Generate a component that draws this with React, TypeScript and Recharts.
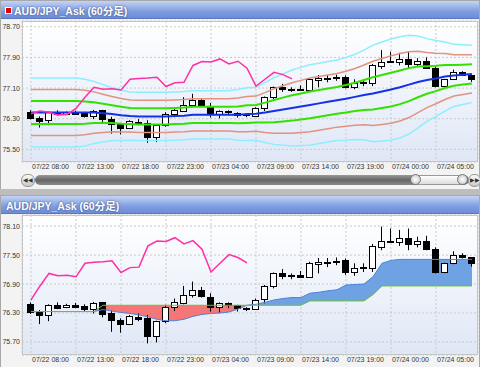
import React from 'react';
import {
  ComposedChart,
  Bar,
  Line,
  Area,
  XAxis,
  YAxis,
  CartesianGrid,
} from 'recharts';

// hourly candles, 07/22 08:00 .. 07/24 09:00
const opens = [76.48, 76.33, 76.26, 76.47, 76.42, 76.47, 76.44, 76.38, 76.52, 76.29, 76.16, 76.07, 76.22, 76.19, 75.83, 76.13, 76.42, 76.51, 76.67, 76.78, 76.64, 76.42, 76.5, 76.46, 76.4, 76.38, 76.58, 76.86, 77.13, 77.07, 77.08, 77.05, 77.32, 77.36, 77.38, 77.4, 77.14, 77.24, 77.24, 77.67, 77.8, 77.78, 77.86, 77.73, 77.8, 77.62, 77.15, 77.33, 77.51, 77.45];
const highs = [76.52, 76.36, 76.48, 76.52, 76.49, 76.51, 76.48, 76.53, 76.53, 76.35, 76.19, 76.26, 76.29, 76.26, 76.14, 76.47, 76.6, 76.86, 76.95, 76.84, 76.71, 76.52, 76.52, 76.47, 76.42, 76.6, 76.88, 77.14, 77.21, 77.12, 77.17, 77.36, 77.44, 77.44, 77.45, 77.43, 77.33, 77.33, 77.73, 78.09, 78.05, 78.02, 78.05, 77.88, 77.9, 77.66, 77.34, 77.58, 77.54, 77.46];
const lows = [76.28, 76.07, 76.13, 76.38, 76.4, 76.4, 76.33, 76.29, 76.21, 75.91, 75.89, 76.05, 76.13, 75.67, 75.69, 76.09, 76.34, 76.48, 76.62, 76.62, 76.33, 76.31, 76.4, 76.33, 76.34, 76.37, 76.5, 76.81, 77.0, 77.0, 77.04, 77.04, 77.12, 77.25, 77.29, 77.09, 77.07, 77.15, 77.15, 77.6, 77.76, 77.69, 77.6, 77.66, 77.6, 77.12, 77.14, 77.31, 77.43, 77.26];
const closes = [76.32, 76.25, 76.47, 76.41, 76.47, 76.43, 76.38, 76.51, 76.28, 76.16, 76.07, 76.23, 76.18, 75.83, 76.13, 76.42, 76.52, 76.67, 76.78, 76.65, 76.43, 76.5, 76.47, 76.4, 76.41, 76.57, 76.86, 77.12, 77.07, 77.08, 77.05, 77.33, 77.35, 77.36, 77.38, 77.14, 77.24, 77.25, 77.69, 77.79, 77.78, 77.86, 77.73, 77.8, 77.62, 77.15, 77.33, 77.51, 77.45, 77.34];

// bollinger middle line and sigma (top panel)
const bbMid = [76.46, 76.46, 76.46, 76.46, 76.46, 76.46, 76.46, 76.46, 76.44, 76.42, 76.39, 76.37, 76.36, 76.36, 76.36, 76.36, 76.37, 76.38, 76.4, 76.4, 76.4, 76.4, 76.4, 76.4, 76.42, 76.43, 76.46, 76.5, 76.54, 76.58, 76.62, 76.66, 76.7, 76.74, 76.78, 76.82, 76.87, 76.92, 76.96, 77.01, 77.06, 77.12, 77.19, 77.26, 77.31, 77.35, 77.4, 77.43, 77.45, 77.47];
const bbSigma = [0.3, 0.3, 0.3, 0.3, 0.3, 0.3, 0.29, 0.27, 0.25, 0.23, 0.22, 0.21, 0.21, 0.21, 0.21, 0.21, 0.21, 0.21, 0.21, 0.21, 0.21, 0.21, 0.21, 0.22, 0.23, 0.23, 0.26, 0.29, 0.31, 0.33, 0.34, 0.35, 0.35, 0.35, 0.35, 0.36, 0.37, 0.39, 0.42, 0.43, 0.44, 0.44, 0.43, 0.4, 0.36, 0.33, 0.3, 0.27, 0.26, 0.25];

// lagging lines
const lagTop = [76.43, 76.5, 76.47, 76.4, 76.41, 76.57, 76.86, 77.12, 77.07, 77.08, 77.05, 77.33, 77.35, 77.36, 77.38, 77.14, 77.24, 77.25, 77.69, 77.79, 77.78, 77.86, 77.73, 77.8, 77.62, 77.15, 77.33, 77.51, 77.45, 77.34];
const lagBottom = [76.57, 76.86, 77.12, 77.07, 77.08, 77.05, 77.33, 77.35, 77.36, 77.38, 77.14, 77.24, 77.25, 77.69, 77.79, 77.78, 77.86, 77.73, 77.8, 77.62, 77.15, 77.33, 77.51, 77.45, 77.34];

// ichimoku cloud spans (bottom panel)
const spanA = [76.33, 76.33, 76.33, 76.33, 76.33, 76.33, 76.33, 76.33, 76.37, 76.34, 76.31, 76.29, 76.26, 76.22, 76.17, 76.14, 76.14, 76.17, 76.23, 76.27, 76.29, 76.3, 76.32, 76.38, 76.46, 76.48, 76.52, 76.57, 76.6, 76.62, 76.62, 76.71, 76.73, 76.76, 76.78, 76.88, 76.89, 76.9, 77.05, 77.33, 77.39, 77.41, 77.41, 77.41, 77.41, 77.41, 77.41, 77.41, 77.41, 77.41];
const spanB = [76.33, 76.33, 76.33, 76.33, 76.33, 76.33, 76.33, 76.33, 76.46, 76.46, 76.46, 76.46, 76.46, 76.46, 76.46, 76.46, 76.46, 76.46, 76.46, 76.46, 76.46, 76.46, 76.46, 76.46, 76.46, 76.46, 76.46, 76.46, 76.46, 76.46, 76.46, 76.55, 76.55, 76.55, 76.55, 76.55, 76.55, 76.55, 76.68, 76.86, 76.86, 76.86, 76.86, 76.86, 76.86, 76.86, 76.86, 76.86, 76.86, 76.86];

const timeLabels = ['07/22 08:00', '07/22 13:00', '07/22 18:00', '07/22 23:00', '07/23 04:00', '07/23 09:00', '07/23 14:00', '07/23 19:00', '07/24 00:00', '07/24 05:00'];
const timeTicks = [0, 5, 10, 15, 20, 25, 30, 35, 40, 45];
const topTicks = [75.5, 76.3, 77.1, 77.9, 78.7];
const bottomTicks = [75.7, 76.3, 76.9, 77.5, 78.1];

const rows = opens.map((o, i) => ({
  i,
  open: o,
  high: highs[i],
  low: lows[i],
  close: closes[i],
  range: [lows[i], highs[i]],
  mid: bbMid[i],
  sd: bbSigma[i],
  lagTop: lagTop[i],
  lagBottom: lagBottom[i],
  a: spanA[i],
  b: spanB[i],
}));

const FONT = '"Liberation Sans", Arial, sans-serif';

const Candle = (props: any) => {
  const { x, y, width, height, payload } = props;
  if (!payload || height == null) return null;
  const { open, close, high, low } = payload;
  const ppu = high - low > 0 ? height / (high - low) : 0;
  const yOf = (v: number) => y + (high - v) * ppu;
  const cx = Math.round(x + width / 2) + 0.5;
  const top = Math.round(yOf(Math.max(open, close))) + 0.5;
  const bot = Math.round(yOf(Math.min(open, close))) + 0.5;
  const up = close >= open;
  return (
    <g>
      <line x1={cx} x2={cx} y1={y} y2={y + height} stroke='#000' strokeWidth={1} />
      <rect
        x={cx - 3}
        y={top}
        width={6}
        height={Math.max(bot - top, 1)}
        fill={up ? '#fff' : '#000'}
        stroke='#000'
        strokeWidth={1}
      />
    </g>
  );
};

const TimeTick = (props: any) => {
  const { x, y, payload } = props;
  const idx = timeTicks.indexOf(payload.value);
  return (
    <text x={x + 1} y={y} dy={5} textAnchor='start' fontSize={7} fill='#333' fontFamily={FONT}>
      {timeLabels[idx]}
    </text>
  );
};

const TitleBar = ({ top, left, dot }: { top: number; left: number; dot: boolean }) => (
  <div
    style={{
      position: 'absolute',
      left: 1,
      top,
      width: 478,
      height: 17,
      background: 'linear-gradient(#c4d4f4, #7f9de0 60%, #6d8cd6)',
      borderBottom: '1px solid #5b78c0',
    }}
  >
    {dot && (
      <div
        style={{
          position: 'absolute',
          left: 4,
          top: 6,
          width: 5,
          height: 5,
          background: '#e00000',
          border: '1px solid #fff',
        }}
      />
    )}
    <div
      style={{
        position: 'absolute',
        left,
        top: 2,
        color: '#fff',
        fontSize: 10.5,
        fontWeight: 'bold',
        fontFamily: '"Liberation Sans", "Noto Sans CJK JP", sans-serif',
        textShadow: '0 0 2px #334477',
        whiteSpace: 'nowrap',
      }}
    >
      AUD/JPY_Ask (60分足)
    </div>
  </div>
);

const PlotBg = ({ top, height }: { top: number; height: number }) => (
  <div
    style={{
      position: 'absolute',
      left: 22,
      top,
      width: 456,
      height,
      background: 'linear-gradient(#ffffff, #dfe7f6)',
      border: '1px solid #c4c4c4',
      boxSizing: 'border-box',
    }}
  />
);

const xDomain = [-1, 49.67];

export default function App() {
  return (
    <div
      style={{
        position: 'fixed',
        left: 0,
        top: 0,
        width: 480,
        height: 367,
        background: '#f1f1f1',
        overflow: 'hidden',
      }}
    >
      {/* top panel frame */}
      <div style={{ position: 'absolute', left: 0, top: 0, width: 478, height: 188, border: '1px solid #a8a8a8', background: '#f3f3f3' }} />
      <TitleBar top={1} left={13} dot />
      <PlotBg top={21} height={141} />

      {/* scrollbar */}
      <div style={{ position: 'absolute', left: 21, top: 174, width: 12, height: 11, borderRadius: 6, background: 'linear-gradient(#fafafa, #c8c8c8)', border: '1px solid #999', fontSize: 6, lineHeight: '11px', textAlign: 'center', color: '#333', fontFamily: FONT }}>◀◀</div>
      <div style={{ position: 'absolute', left: 35, top: 175, width: 434, height: 10, borderRadius: 5, background: 'linear-gradient(#9a9a9a, #666 50%, #888)' }} />
      <div style={{ position: 'absolute', left: 411, top: 175, width: 56, height: 10, borderRadius: 5, background: 'linear-gradient(#ffffff, #dcdcdc)', border: '1px solid #999', boxSizing: 'border-box' }} />
      <div style={{ position: 'absolute', left: 410, top: 174, width: 11, height: 11, borderRadius: 6, background: 'radial-gradient(#ffffff, #c0c0c0)', border: '1px solid #777', boxSizing: 'border-box' }} />
      <div style={{ position: 'absolute', left: 457, top: 174, width: 11, height: 11, borderRadius: 6, background: 'radial-gradient(#ffffff, #c0c0c0)', border: '1px solid #777', boxSizing: 'border-box' }} />
      <div style={{ position: 'absolute', left: 468, top: 174, width: 11, height: 11, borderRadius: 6, background: 'linear-gradient(#fafafa, #c8c8c8)', border: '1px solid #999', fontSize: 6, lineHeight: '11px', textAlign: 'center', color: '#333', fontFamily: FONT }}>▶▶</div>

      {/* bottom panel frame */}
      <div style={{ position: 'absolute', left: 0, top: 189, width: 480, height: 6, background: '#bdbdbd' }} />
      <div style={{ position: 'absolute', left: 0, top: 195, width: 478, height: 171, border: '1px solid #a8a8a8', background: '#f3f3f3' }} />
      <TitleBar top={196} left={5} dot={false} />
      <PlotBg top={215} height={140} />

      <div style={{ position: 'absolute', left: 0, top: 0 }}>
        <ComposedChart width={480} height={175} data={rows} margin={{ top: 21, right: 2, bottom: 0, left: 0 }}>
          <CartesianGrid stroke='#c9c9c9' strokeDasharray='2 2' />
          <XAxis
            dataKey='i'
            type='number'
            domain={xDomain}
            ticks={timeTicks}
            tick={<TimeTick />}
            tickLine={false}
            axisLine={false}
            tickSize={0}
            height={13}
            allowDataOverflow
          />
          <YAxis
            type='number'
            domain={[75.17, 78.85]}
            ticks={topTicks}
            tickFormatter={(v: number) => v.toFixed(2)}
            tick={{ fontSize: 7, fill: '#333', fontFamily: FONT }}
            tickLine={false}
            axisLine={false}
            tickSize={0}
            tickMargin={2}
            width={22}
            allowDataOverflow
          />
          <Line dataKey={(d: any) => d.mid + 3 * d.sd} stroke='#8ceeff' strokeWidth={1.5} dot={false} isAnimationActive={false} />
          <Line dataKey={(d: any) => d.mid - 3 * d.sd} stroke='#8ceeff' strokeWidth={1.5} dot={false} isAnimationActive={false} />
          <Line dataKey={(d: any) => d.mid + 2 * d.sd} stroke='#e0937f' strokeWidth={1.5} dot={false} isAnimationActive={false} />
          <Line dataKey={(d: any) => d.mid - 2 * d.sd} stroke='#e0937f' strokeWidth={1.5} dot={false} isAnimationActive={false} />
          <Line dataKey={(d: any) => d.mid + d.sd} stroke='#33e000' strokeWidth={2} dot={false} isAnimationActive={false} />
          <Line dataKey={(d: any) => d.mid - d.sd} stroke='#33e000' strokeWidth={2} dot={false} isAnimationActive={false} />
          <Line dataKey='mid' stroke='#1530e8' strokeWidth={2} dot={false} isAnimationActive={false} />
          <Line dataKey='lagTop' stroke='#ff2fa6' strokeWidth={1.5} dot={false} isAnimationActive={false} />
          <Bar dataKey='range' barSize={6} shape={<Candle />} isAnimationActive={false} />
        </ComposedChart>
      </div>

      <div style={{ position: 'absolute', left: 0, top: 0 }}>
        <ComposedChart width={480} height={367} data={rows} margin={{ top: 215, right: 2, bottom: 0, left: 0 }}>
          <CartesianGrid stroke='#c9c9c9' strokeDasharray='2 2' />
          <XAxis
            dataKey='i'
            type='number'
            domain={xDomain}
            ticks={timeTicks}
            tick={<TimeTick />}
            tickLine={false}
            axisLine={false}
            tickSize={0}
            height={12}
            allowDataOverflow
          />
          <YAxis
            type='number'
            domain={[75.43, 78.33]}
            ticks={bottomTicks}
            tickFormatter={(v: number) => v.toFixed(2)}
            tick={{ fontSize: 7, fill: '#333', fontFamily: FONT }}
            tickLine={false}
            axisLine={false}
            tickSize={0}
            tickMargin={2}
            width={22}
            allowDataOverflow
          />
          <Area
            dataKey={(d: any) => (d.b > d.a ? [d.a, d.b] : [d.a, d.a])}
            fill='#f47676'
            fillOpacity={1}
            stroke='none'
            isAnimationActive={false}
          />
          <Area
            dataKey={(d: any) => (d.a >= d.b ? [d.b, d.a] : [d.b, d.b])}
            fill='#6fa2e2'
            fillOpacity={1}
            stroke='none'
            isAnimationActive={false}
          />
          <Line dataKey='a' stroke='#4f82d8' strokeWidth={1} dot={false} isAnimationActive={false} />
          <Line dataKey='b' stroke='#6cbf3a' strokeWidth={1} dot={false} isAnimationActive={false} />
          <Line dataKey='lagBottom' stroke='#ff2fa6' strokeWidth={1.5} dot={false} isAnimationActive={false} />
          <Bar dataKey='range' barSize={6} shape={<Candle />} isAnimationActive={false} />
        </ComposedChart>
      </div>
    </div>
  );
}
